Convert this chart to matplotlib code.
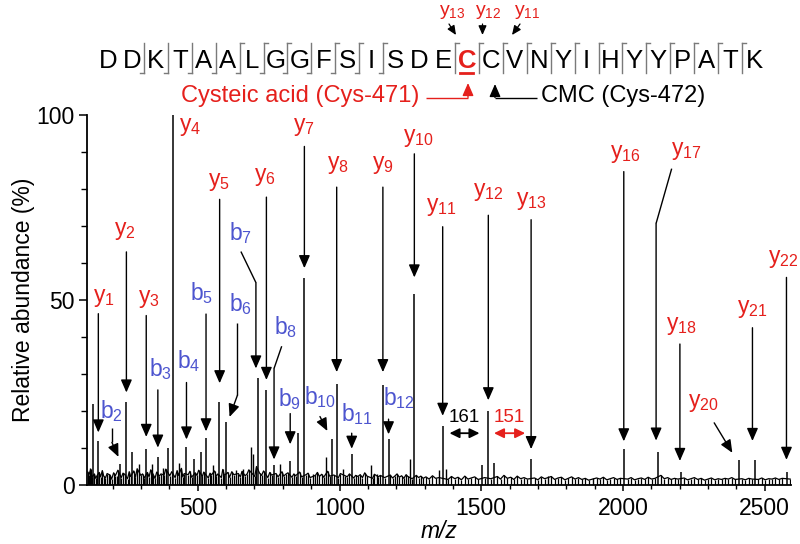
import matplotlib
matplotlib.use("Agg")
import matplotlib.pyplot as plt

plt.rcParams["font.family"] = ["Liberation Sans", "DejaVu Sans"]
plt.rcParams["mathtext.fontset"] = "custom"
plt.rcParams["mathtext.rm"] = "Liberation Sans"
plt.rcParams["mathtext.it"] = "Liberation Sans:italic"

RED = "#e5201c"
BLUE = "#4d55cf"

# main fragment peaks (m/z, relative abundance %)
peak_mz = [130, 147, 226, 247, 269, 318, 359, 396, 414, 459, 485, 510, 529, 576, 600,
           712, 740, 769, 826, 853, 876, 973, 990, 1043, 1153, 1173, 1264, 1364, 1503,
           1525, 1545, 1676, 2005, 2122, 2205, 2408, 2466, 2578]
peak_h = [22, 11.9, 5.7, 22.3, 8.8, 9.8, 7.6, 10, 100, 10.4, 7, 9, 12.6, 22.3, 17,
          28.9, 25.7, 5.5, 6.5, 14, 56, 12.4, 27.2, 8.3, 27, 12.4, 51.5, 16, 5.4,
          20, 6, 7.1, 9.7, 8.8, 3.4, 6.8, 6.8, 3.5]

# smaller unassigned peaks
minor_mz = [120, 185, 215, 294, 338, 376, 435, 553, 635, 661, 688, 696, 790, 908, 952,
            1014, 1110, 1131, 1249, 1350, 1376, 1735, 1895]
minor_h = [4.7, 3, 2.5, 5.7, 5.7, 4.7, 6, 5.3, 4, 4.4, 10.4, 8.5, 5.7, 3, 7.6,
           4.4, 5.5, 3, 7, 4, 4.4, 2.5, 2]

# baseline noise
noise_lo_mz = [112, 116, 122, 127, 135, 140, 145, 152, 157, 163,
               168, 174, 180, 190, 196, 203, 209, 218, 230, 236,
               242, 252, 258, 263, 274, 280, 286, 299, 305, 311,
               322, 328, 334, 343, 349, 355, 364, 370, 381, 387,
               401, 408, 420, 427, 432, 442, 447, 452, 466, 472,
               478, 491, 497, 503, 516, 521, 537, 543, 548, 559,
               565, 571, 583, 588, 594, 606, 612, 620, 627, 643,
               650, 656, 667, 674, 680, 701, 707, 718, 725, 732,
               747, 754, 760, 776, 783, 797, 803, 810, 818, 832,
               839, 845, 859, 866, 882, 889, 896, 915, 922, 929,
               937, 944, 958, 965, 980, 996, 1003, 1020, 1027, 1035,
               1050, 1057, 1065, 1073, 1081, 1089, 1097, 1117, 1123, 1137,
               1144, 1159, 1179, 1187, 1195, 1203, 1211, 1219, 1227, 1235,
               1241, 1256, 1271, 1279, 1287, 1295]
noise_lo_h = [3.5, 2.8, 4.2, 2.1, 3.0, 1.8, 2.6, 3.4, 2.2, 3.9,
              2.4, 1.9, 3.1, 2.7, 1.6, 3.3, 2.5, 4.0, 2.0, 3.2,
              2.9, 1.7, 3.6, 2.3, 3.8, 2.1, 4.4, 2.6, 3.0, 1.9,
              3.4, 2.2, 4.1, 2.8, 1.8, 3.5, 2.4, 3.0, 2.7, 4.3,
              2.5, 3.6, 2.0, 3.9, 2.6, 4.5, 2.2, 3.1, 2.8, 3.7,
              2.1, 3.3, 2.6, 4.0, 2.3, 3.5, 1.9, 3.2, 2.7, 3.8,
              2.4, 3.0, 2.0, 4.2, 2.6, 3.4, 2.1, 3.6, 2.8, 3.1,
              2.2, 3.7, 2.5, 3.0, 4.1, 2.3, 5.0, 3.2, 2.6, 3.8,
              2.0, 3.4, 2.7, 3.1, 2.2, 3.6, 2.4, 2.9, 3.3, 2.1,
              3.0, 2.5, 3.5, 2.2, 2.8, 3.2, 2.0, 2.6, 3.4, 2.3,
              2.9, 2.1, 3.7, 2.4, 2.7, 2.0, 3.1, 2.5, 2.2, 3.0,
              1.9, 2.6, 2.3, 2.8, 2.0, 3.3, 2.4, 1.8, 2.9, 2.2,
              2.6, 2.0, 2.7, 1.9, 2.4, 3.0, 2.1, 2.5, 1.8, 2.8,
              2.3, 1.7, 2.6, 2.0, 2.4, 1.8]
noise_hi_mz = [1305, 1316, 1328, 1339, 1351, 1383, 1395, 1407, 1418, 1430,
               1442, 1453, 1465, 1477, 1489, 1512, 1534, 1557, 1568, 1580,
               1592, 1604, 1615, 1627, 1639, 1651, 1663, 1688, 1700, 1712,
               1724, 1747, 1759, 1771, 1783, 1795, 1807, 1819, 1831, 1843,
               1855, 1867, 1879, 1907, 1919, 1931, 1943, 1955, 1967, 1979,
               1991, 2017, 2029, 2041, 2053, 2065, 2077, 2089, 2101, 2113,
               2134, 2146, 2158, 2170, 2182, 2194, 2216, 2228, 2240, 2252,
               2264, 2276, 2288, 2300, 2312, 2324, 2336, 2348, 2360, 2372,
               2384, 2396, 2420, 2432, 2444, 2456, 2478, 2490, 2502, 2514,
               2526, 2538, 2550, 2562, 2590]
noise_hi_h = [2.2, 1.6, 2.5, 1.8, 2.0, 1.5, 2.3, 1.7, 2.1, 1.4,
              2.4, 1.6, 1.9, 2.2, 1.5, 2.0, 1.7, 2.3, 1.6, 2.6,
              1.8, 2.1, 1.5, 2.4, 1.7, 2.0, 1.6, 1.9, 1.4, 2.2,
              1.7, 2.3, 1.5, 1.9, 2.1, 1.4, 1.8, 2.2, 1.6, 2.0,
              1.5, 1.8, 1.3, 1.9, 1.6, 2.1, 1.4, 1.7, 2.0, 1.5,
              1.8, 1.6, 2.0, 1.4, 1.7, 1.9, 1.5, 2.1, 1.6, 1.8,
              2.6, 1.7, 2.0, 1.5, 1.8, 1.6, 1.9, 1.4, 1.7, 2.0,
              1.5, 1.8, 1.3, 1.6, 1.9, 1.4, 1.7, 1.5, 1.8, 1.6,
              2.0, 1.5, 1.7, 1.4, 1.8, 1.6, 1.5, 1.9, 1.4, 1.7,
              1.6, 1.9, 1.5, 1.8, 1.6]

# ion labels: (ion, number, colour, label position, arrow path)
ions = [
    ("y", "1", RED, (167, 50.8), [(149, 46.3), (149, 14.2)]),
    ("y", "2", RED, (243, 68.8), [(248, 63), (248, 25)]),
    ("b", "2", BLUE, (197, 20), [(197, 15.5), (197, 11.5), (220, 7.6)]),
    ("y", "3", RED, (326, 50.3), [(318, 45.8), (318, 13)]),
    ("b", "3", BLUE, (367, 31.3), [(359, 25.7), (359, 10.1)]),
    ("y", "4", RED, (473, 96.8), None),
    ("b", "4", BLUE, (467, 33.6), [(460, 27.7), (460, 12.3)]),
    ("b", "5", BLUE, (514, 52), [(529, 46.2), (529, 14.5)]),
    ("y", "5", RED, (573, 82), [(577, 77.2), (577, 27.5)]),
    ("b", "6", BLUE, (649, 49), [(640, 43.7), (640, 24.3), (612, 18.4)]),
    ("b", "7", BLUE, (649, 68), [(652, 63.1), (705, 54.7), (705, 31.5)]),
    ("y", "6", RED, (737, 83.3), [(742, 77.8), (742, 28.4)]),
    ("b", "8", BLUE, (808, 42.6), [(796, 37.5), (769, 31.5), (769, 6.9)]),
    ("y", "7", RED, (875, 96.8), [(876, 91.5), (876, 58.6)]),
    ("b", "9", BLUE, (823, 23.2), [(826, 19.3), (826, 11)]),
    ("b", "10", BLUE, (931, 23.7), [(931, 18.5), (957, 14.6)]),
    ("y", "8", RED, (993, 86.5), [(990, 80.5), (990, 30.5)]),
    ("b", "11", BLUE, (1061, 19.2), [(1043, 14), (1043, 9.8)]),
    ("y", "9", RED, (1153, 86.5), [(1153, 80.5), (1153, 30.5)]),
    ("b", "12", BLUE, (1208, 23.4), [(1173, 17.8), (1173, 13.7)]),
    ("y", "10", RED, (1279, 94), [(1264, 89.5), (1264, 56.1)]),
    ("y", "11", RED, (1361, 75.2), [(1364, 69.8), (1364, 18.7)]),
    ("y", "12", RED, (1525, 79.2), [(1525, 72.9), (1525, 22.9)]),
    ("y", "13", RED, (1678, 77), [(1676, 71.7), (1676, 9.7)]),
    ("y", "16", RED, (2008, 89.6), [(2003, 84.7), (2003, 11.8)]),
    ("y", "17", RED, (2225, 90.5), [(2172, 85.5), (2117, 70.7), (2117, 12)]),
    ("y", "18", RED, (2205, 43), [(2201, 38.1), (2201, 6.5)]),
    ("y", "20", RED, (2284, 22.3), [(2322, 16.8), (2386, 8.7)]),
    ("y", "21", RED, (2455, 47.6), [(2457, 42.5), (2457, 11.9)]),
    ("y", "22", RED, (2566, 61.2), [(2577, 56.1), (2577, 6.8)]),
]

sequence = "DDKTAALGGFSISDECCVNYIHYYPATK"
b_ions = [2, 3, 4, 5, 6, 7, 8, 9, 10, 11, 12]
y_ions = [1, 2, 3, 4, 5, 6, 7, 8, 9, 10, 11, 12, 13, 16, 17, 18, 20, 21, 22]

HEAD = "-|>,head_length=0.55,head_width=0.24"


def arrow_path(ax, pts, color="k"):
    if len(pts) > 2:
        ax.plot([p[0] for p in pts[:-1]], [p[1] for p in pts[:-1]],
                color=color, lw=1, solid_capstyle="butt", clip_on=False)
    ax.annotate("", xy=pts[-1], xytext=pts[-2], annotation_clip=False,
                arrowprops=dict(arrowstyle=HEAD, color=color, lw=1,
                                shrinkA=0, shrinkB=0, mutation_scale=14))


fig = plt.figure(figsize=(8, 5.44), dpi=100)
ax = fig.add_axes([87 / 800, 1 - 485 / 544, 704 / 800, 370 / 544])

ax.vlines(noise_lo_mz + noise_hi_mz, 0, noise_lo_h + noise_hi_h, color="k", lw=0.9)
ax.plot(noise_lo_mz + noise_hi_mz, noise_lo_h + noise_hi_h, color="k", lw=0.9)
ax.vlines(minor_mz, 0, minor_h, color="k", lw=1)
ax.vlines(peak_mz, 0, peak_h, color="k", lw=1.1)

for ion, num, col, (tx, ty), path in ions:
    ax.text(tx, ty, ion + r"$_{\mathrm{" + num + "}}$", color=col, fontsize=16.5,
            ha="center", va="center")
    if path:
        arrow_path(ax, path)

# mass differences
dbl = "<|-|>,head_length=0.45,head_width=0.22"
ax.annotate("", xy=(1388, 14), xytext=(1494, 14),
            arrowprops=dict(arrowstyle=dbl, color="k", lw=1.3,
                            shrinkA=0, shrinkB=0, mutation_scale=13))
ax.text(1441, 18.3, "161", fontsize=13.5, ha="center", va="center", color="k")
ax.annotate("", xy=(1545, 14), xytext=(1655, 14),
            arrowprops=dict(arrowstyle=dbl, color=RED, lw=1.3,
                            shrinkA=0, shrinkB=0, mutation_scale=13))
ax.text(1600, 18.3, "151", fontsize=13.5, ha="center", va="center", color=RED)

ax.set_xlim(109, 2593)
ax.set_ylim(0, 100)
ax.set_xticks([500, 1000, 1500, 2000, 2500])
ax.set_xticks(range(200, 2600, 100), minor=True)
ax.set_yticks([0, 50, 100])
ax.set_yticks(range(0, 101, 10), minor=True)
for s in ["top", "right"]:
    ax.spines[s].set_visible(False)
for s in ["left", "bottom"]:
    ax.spines[s].set_linewidth(1.3)
ax.tick_params(axis="both", which="major", labelsize=16.5, width=1.1, direction="out")
ax.tick_params(axis="x", which="major", length=4.5, pad=4)
ax.tick_params(axis="x", which="minor", length=3, width=1)
ax.tick_params(axis="y", which="major", length=6, pad=3)
ax.tick_params(axis="y", which="minor", length=4, width=1)
ax.set_ylabel("Relative abundance (%)", fontsize=16.5, labelpad=1)
ax.set_xlabel("m/z", fontsize=16.5, style="italic", labelpad=0)

# peptide sequence above the spectrum, in pixel coordinates
top = fig.add_axes([0, 0, 1, 1])
top.set_xlim(0, 800)
top.set_ylim(544, 0)
top.axis("off")
top.patch.set_visible(False)

step = 23.93
x0 = 108
for i, aa in enumerate(sequence):
    x = x0 + i * step
    if i == 15:
        top.text(x, 68.5, aa, fontsize=18.5, color=RED, fontweight="bold", ha="center", va="baseline")
        top.plot([x - 6.5, x + 6.5], [73, 73], color=RED, lw=2)
    else:
        top.text(x, 68.5, aa, fontsize=18.5, color="k", ha="center", va="baseline")

cleave_b = set(b_ions)
cleave_y = set(len(sequence) - k for k in y_ions)
for c in sorted(cleave_b | cleave_y):
    xm = x0 + (c - 0.5) * step
    top.plot([xm, xm], [43, 73], color="#7a7a7a", lw=1)
    if c in cleave_b:
        top.plot([xm - 4, xm], [73, 73], color="#7a7a7a", lw=1)
    if c in cleave_y:
        top.plot([xm, xm + 4], [43, 43], color="#7a7a7a", lw=1)

for num, tx, p0, p1 in [("13", 452, (449, 24), (456, 35)),
                        ("12", 488, (482.5, 24), (482.5, 35)),
                        ("11", 527, (520, 24), (512, 35))]:
    top.text(tx, 12, "y" + r"$_{\mathrm{" + num + "}}$", color=RED, fontsize=14,
             ha="center", va="center")
    top.annotate("", xy=p1, xytext=p0,
                 arrowprops=dict(arrowstyle="-|>,head_length=0.5,head_width=0.22",
                                 color="k", lw=0.9, shrinkA=0, shrinkB=0, mutation_scale=11))

top.text(419, 96, "Cysteic acid (Cys-471)", color=RED, fontsize=17, ha="right", va="center")
arrow_path(top, [(426, 97.5), (468, 97.5), (468, 83)], color=RED)
top.text(541, 96, "CMC (Cys-472)", color="k", fontsize=17, ha="left", va="center")
arrow_path(top, [(537, 97.5), (495, 97.5), (495, 84)], color="k")

fig.savefig("out.png", dpi=100)
